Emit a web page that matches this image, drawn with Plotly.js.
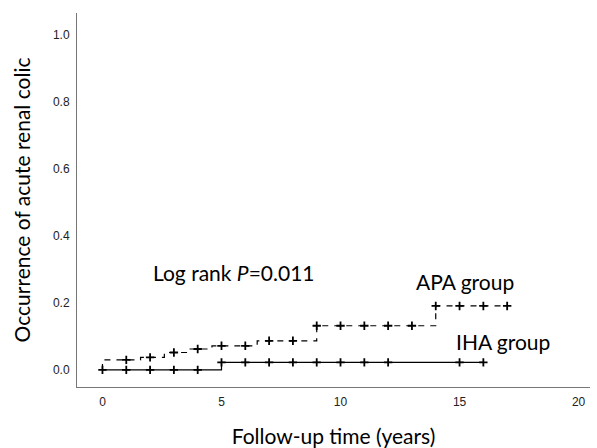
<!DOCTYPE html>
<html>
<head>
<meta charset="utf-8">
<script src="https://cdn.plot.ly/plotly-3.0.1.min.js"></script>
<style>html,body{margin:0;padding:0;background:#fff;}#chart{width:597px;height:448px;}</style>
</head>
<body>
<div id="chart"></div>
<script>
// APA group (dashed) step curve
const apaStepTimes = [0, 0, 1.6, 2.6, 3.6, 4.6, 6.5, 9, 14, 17];
const apaStepValues = [0, 0.030, 0.0375, 0.052, 0.0625, 0.072, 0.087, 0.132, 0.191, 0.191];
const apaCensorTimes = [1, 2, 3, 4, 5, 6, 7, 8, 9, 10, 11, 12, 13, 14, 15, 16, 17];
const apaCensorValues = [0.030, 0.0375, 0.052, 0.0625, 0.072, 0.072, 0.087, 0.087, 0.132, 0.132, 0.132, 0.132, 0.132, 0.191, 0.191, 0.191, 0.191];
// IHA group (solid) step curve
const ihaStepTimes = [0, 5, 16];
const ihaStepValues = [0, 0.0226, 0.0226];
const ihaCensorTimes = [0, 1, 2, 3, 4, 5, 6, 7, 8, 9, 10, 11, 12, 15, 16];
const ihaCensorValues = [0, 0, 0, 0, 0, 0.0226, 0.0226, 0.0226, 0.0226, 0.0226, 0.0226, 0.0226, 0.0226, 0.0226, 0.0226];
const xTicks = [0, 5, 10, 15, 20];
const yTicks = [0, 0.2, 0.4, 0.6, 0.8, 1.0];
const yTickText = ['0.0', '0.2', '0.4', '0.6', '0.8', '1.0'];

const censorMarker = {symbol: 'cross-thin', size: 6, color: '#000', line: {color: '#000', width: 1.8}};

const traces = [
  {x: apaStepTimes, y: apaStepValues, mode: 'lines', line: {shape: 'hv', color: '#000', width: 1.2, dash: '6px,6px'}, hoverinfo: 'skip'},
  {x: apaCensorTimes, y: apaCensorValues, mode: 'markers', marker: censorMarker, hoverinfo: 'skip'},
  {x: ihaStepTimes, y: ihaStepValues, mode: 'lines', line: {shape: 'hv', color: '#000', width: 1.2}, hoverinfo: 'skip'},
  {x: ihaCensorTimes, y: ihaCensorValues, mode: 'markers', marker: censorMarker, hoverinfo: 'skip'}
];

const txtFont = {family: 'Lato, Carlito, sans-serif', size: 21, color: '#000'};
const layout = {
  width: 597, height: 448,
  margin: {l: 77, r: 7, t: 13, b: 61},
  paper_bgcolor: '#fff', plot_bgcolor: '#fff',
  showlegend: false,
  font: {family: 'Liberation Sans, Arial, sans-serif', size: 12, color: '#222'},
  xaxis: {
    range: [-1.07, 20.48], tickvals: xTicks, ticktext: xTicks.map(String),
    showgrid: false, zeroline: false, showline: true, linecolor: '#777', linewidth: 1,
    ticks: '', ticklabelstandoff: 4,
    title: {text: 'Follow-up time (years)', font: txtFont, standoff: 20}
  },
  yaxis: {
    range: [-0.051, 1.066], tickvals: yTicks, ticktext: yTickText,
    showgrid: false, zeroline: false, showline: true, linecolor: '#777', linewidth: 1,
    ticks: '', ticklabelstandoff: 4,
    title: {text: 'Occurrence of acute renal colic', font: txtFont, standoff: 16}
  },
  annotations: [
    {x: 2.05, y: 0.29, xref: 'x', yref: 'y', xanchor: 'left', yanchor: 'middle', showarrow: false,
     text: 'Log rank <i>P</i>=0.011', font: txtFont},
    {x: 13.1, y: 0.265, xref: 'x', yref: 'y', xanchor: 'left', yanchor: 'middle', showarrow: false,
     text: 'APA group', font: txtFont},
    {x: 14.75, y: 0.085, xref: 'x', yref: 'y', xanchor: 'left', yanchor: 'middle', showarrow: false,
     text: 'IHA group', font: txtFont}
  ]
};
Plotly.newPlot('chart', traces, layout, {displayModeBar: false, staticPlot: true});
</script>
</body>
</html>
